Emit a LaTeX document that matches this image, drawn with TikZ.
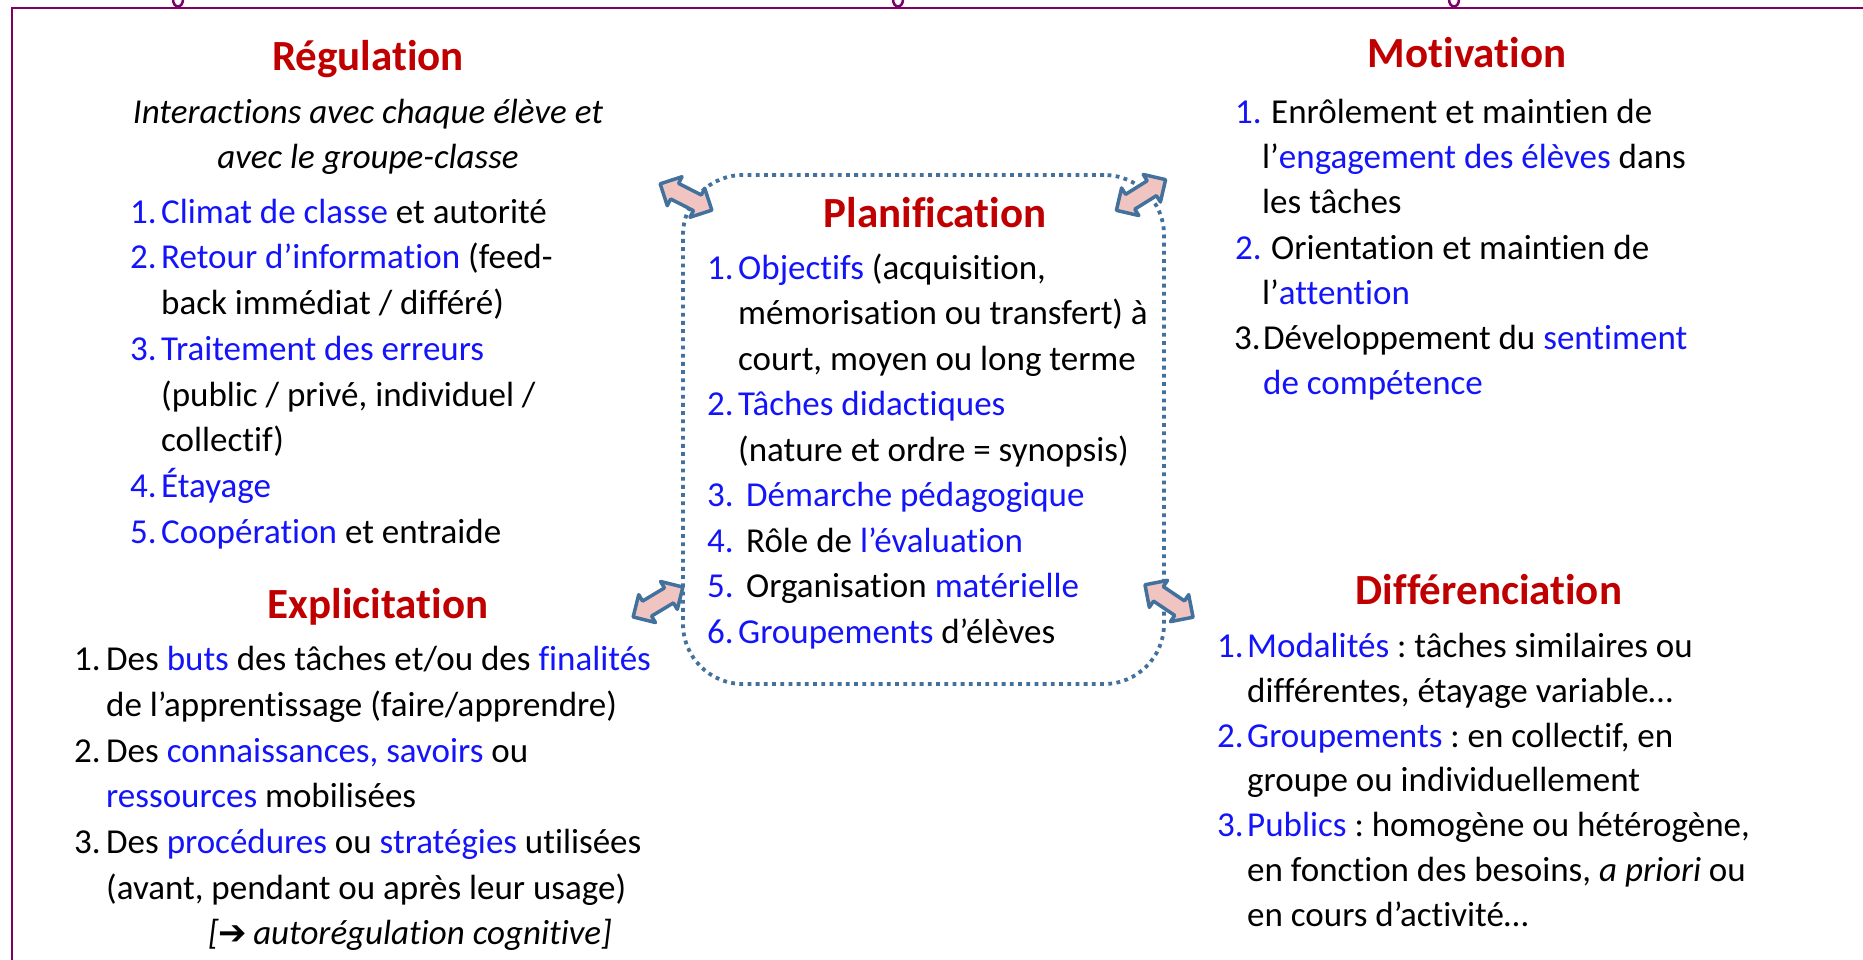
\documentclass[tikz,border=0pt]{standalone}
\usepackage{fontspec}
\setmainfont{Carlito}[Ligatures=NoCommon]
\newfontfamily\dejavu{DejaVu Sans}
\usetikzlibrary{shapes.arrows}
\definecolor{ttlred}{RGB}{192,0,0}
\definecolor{kwblue}{RGB}{20,20,250}
\definecolor{steel}{RGB}{65,113,156}
\definecolor{pinkfill}{RGB}{240,196,192}
\definecolor{framepurple}{RGB}{128,0,100}
\newcommand\kw[1]{\textcolor{kwblue}{#1}}
\newcommand\nb[2]{\makebox[#1pt][l]{#2}}
\frenchspacing
\begin{document}
\frenchspacing
\begin{tikzpicture}[x=1pt,y=-1pt,
  ttl/.style={anchor=base, inner sep=0pt, font=\fontsize{43}{50}\selectfont\bfseries, text=ttlred},
  txt/.style={anchor=base west, inner sep=0pt, font=\fontsize{35}{42}\selectfont},
  ctxt/.style={anchor=base, inner sep=0pt, font=\fontsize{35}{42}\selectfont\itshape},
  dotbox/.style={draw=steel, line width=3.8pt, dash pattern=on 3.8pt off 4.4pt, rounded corners=60pt, minimum width=481pt, minimum height=509pt, inner sep=0pt},
  dblarr/.style={double arrow, draw=steel, fill=pinkfill, line width=3.5pt, line join=round, minimum height=58pt, inner xsep=0pt, inner ysep=7pt, double arrow head extend=7.5pt},
  frag/.style={draw=framepurple, line width=2.5pt}
]
\useasboundingbox (0,0) rectangle (1863,960);
\fill[white] (0,0) rectangle (1863,960);
\draw[framepurple, line width=2pt] (12,960) -- (12,8) -- (1863,8);
\draw[frag] (173,-1) .. controls (173,9) and (183,9) .. (183,-1);
\draw[frag] (893,-1) .. controls (893,9) and (903,9) .. (903,-1);
\draw[frag] (1449,-1) .. controls (1449,9) and (1459,9) .. (1459,-1);

% Planification box
\node[dotbox] (planbox) at (923.5,429.5) {};

% Regulation
\node[ttl] (regt) at (368,71) {Régulation};
\node[ctxt] (reg0a) at (368,124) {Interactions avec chaque élève et};
\node[ctxt] (reg0b) at (368,169) {avec le groupe-classe};
\node[txt] (reg1) at (130,223) {\nb{31}{\kw{1.}}\kw{Climat de classe} et autorité};
\node[txt] (reg2) at (130,269) {\nb{31}{\kw{2.}}\kw{Retour d’information} (feed-};
\node[txt] (reg2b) at (161,314) {back immédiat / différé)};
\node[txt] (reg3) at (130,360) {\nb{31}{\kw{3.}}\kw{Traitement des erreurs}};
\node[txt] (reg3b) at (161,406) {(public / privé, individuel /};
\node[txt] (reg3c) at (161,451) {collectif)};
\node[txt] (reg4) at (130,497) {\nb{31}{\kw{4.}}\kw{Étayage}};
\node[txt] (reg5) at (130,543) {\nb{31}{\kw{5.}}\kw{Coopération} et entraide};

% Explicitation
\node[ttl] (expt) at (378,618) {Explicitation};
\node[txt] (exp1) at (74,670) {\nb{32}{1.}Des \kw{buts} des tâches et/ou des \kw{finalités}};
\node[txt] (exp1b) at (106,716) {de l’apprentissage (faire/apprendre)};
\node[txt] (exp2) at (74,762) {\nb{32}{2.}Des \kw{connaissances, savoirs} ou};
\node[txt] (exp2b) at (106,807) {\kw{ressources} mobilisées};
\node[txt] (exp3) at (74,853) {\nb{32}{3.}Des \kw{procédures} ou \kw{stratégies} utilisées};
\node[txt] (exp3b) at (106,899) {(avant, pendant ou après leur usage)};
\node[txt, font=\fontsize{35}{42}\selectfont\itshape] (exp3c) at (208,944) {[{\dejavu\upshape\fontsize{34}{36}\selectfont ➔}\,autorégulation cognitive]};

% Planification
\node[ttl] (plat) at (935,228) {Planification};
\node[txt] (pla1) at (707,279) {\nb{31}{\kw{1.}}\kw{Objectifs} (acquisition,};
\node[txt] (pla1b) at (738,324) {mémorisation ou transfert) à};
\node[txt] (pla1c) at (738,370) {court, moyen ou long terme};
\node[txt] (pla2) at (707,415) {\nb{31}{\kw{2.}}\kw{Tâches didactiques}};
\node[txt] (pla2b) at (738,461) {(nature et ordre = synopsis)};
\node[txt] (pla3) at (707,506) {\nb{39}{\kw{3.}}\kw{Démarche pédagogique}};
\node[txt] (pla4) at (707,552) {\nb{39}{\kw{4.}}Rôle de \kw{l’évaluation}};
\node[txt] (pla5) at (707,597) {\nb{39}{\kw{5.}}Organisation \kw{matérielle}};
\node[txt] (pla6) at (707,643) {\nb{31}{\kw{6.}}\kw{Groupements} d’élèves};

% Motivation
\node[ttl] (mott) at (1467,68) {Motivation};
\node[txt] (mot1) at (1235,124) {\nb{36}{\kw{1.}}Enrôlement et maintien de};
\node[txt] (mot1b) at (1262,169) {l’\kw{engagement des élèves} dans};
\node[txt] (mot1c) at (1262,214) {les tâches};
\node[txt] (mot2) at (1235,259) {\nb{36}{\kw{2.}}Orientation et maintien de};
\node[txt] (mot2b) at (1262,304) {l’\kw{attention}};
\node[txt] (mot3) at (1234,349) {\nb{29}{3.}Développement du \kw{sentiment}};
\node[txt] (mot3b) at (1263,394) {\kw{de compétence}};

% Differenciation
\node[ttl] (dift) at (1489,604) {Différenciation};
\node[txt] (dif1) at (1217,657) {\nb{30}{\kw{1.}}\kw{Modalités} : tâches similaires ou};
\node[txt] (dif1b) at (1247,702) {différentes, étayage variable…};
\node[txt] (dif2) at (1217,747) {\nb{30}{\kw{2.}}\kw{Groupements} : en collectif, en};
\node[txt] (dif2b) at (1247,791) {groupe ou individuellement};
\node[txt] (dif3) at (1217,836) {\nb{30}{\kw{3.}}\kw{Publics} : homogène ou hétérogène,};
\node[txt] (dif3b) at (1247,881) {en fonction des besoins, \textit{a priori} ou};
\node[txt] (dif3c) at (1247,926) {en cours d’activité…};

% double arrows
\node[dblarr, rotate=-27] (arrtl) at (686,197) {};
\node[dblarr, rotate=32] (arrtr) at (1141,195) {};
\node[dblarr, rotate=31] (arrbl) at (658,602) {};
\node[dblarr, rotate=-34] (arrbr) at (1169,601) {};
\end{tikzpicture}
\end{document}
